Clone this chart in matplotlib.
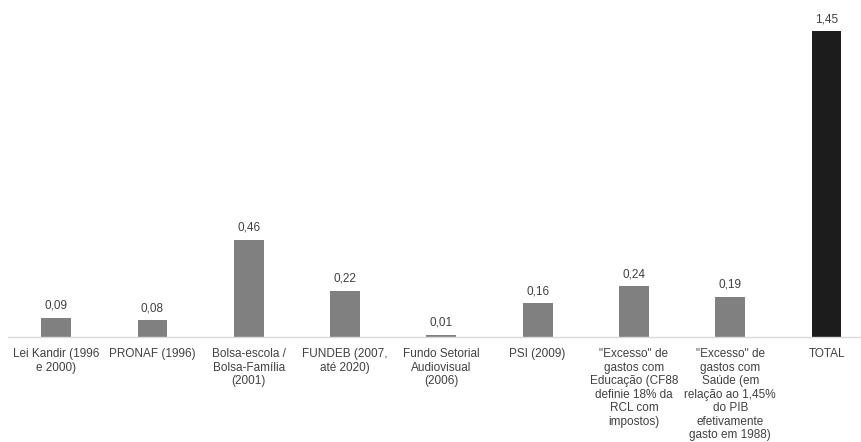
import matplotlib
matplotlib.use('Agg')
import matplotlib.pyplot as plt

plt.rcParams['font.family'] = ['Liberation Sans', 'DejaVu Sans']

categories = ['Lei Kandir (1996\ne 2000)',
              'PRONAF (1996)',
              'Bolsa-escola /\nBolsa-Família\n(2001)',
              'FUNDEB (2007,\naté 2020)',
              'Fundo Setorial\nAudiovisual\n(2006)',
              'PSI (2009)',
              '"Excesso" de\ngastos com\nEducação (CF88\ndefinie 18% da\nRCL com\nimpostos)',
              '"Excesso" de\ngastos com\nSaúde (em\nrelação ao 1,45%\ndo PIB\nefetivamente\ngasto em 1988)',
              'TOTAL']
values = [0.09, 0.08, 0.46, 0.22, 0.01, 0.16, 0.24, 0.19, 1.45]
labels = ['0,09', '0,08', '0,46', '0,22', '0,01', '0,16', '0,24', '0,19', '1,45']

colors = ['#808080'] * (len(values) - 1) + ['#1c1c1c']

fig = plt.figure(figsize=(8.61, 4.42), dpi=100)
# axes: left 8px, right 861px, baseline at 337px, top at 0
ax = fig.add_axes([8/861, (442-337)/442, 853/861, 337/442])

x = list(range(len(values)))
ax.bar(x, values, width=0.31, color=colors, zorder=2)

for xi, v, lab in zip(x, values, labels):
    ax.text(xi, v + 0.057, lab, ha='center', va='center', fontsize=8.5, color='#404040')

ax.set_xlim(-0.5, -0.5 + 853/96.3)
ax.set_ylim(0, 337/211)

for s in ['top', 'right', 'left']:
    ax.spines[s].set_visible(False)
ax.spines['bottom'].set_color('#d9d9d9')
ax.spines['bottom'].set_linewidth(1.0)
ax.set_yticks([])
ax.set_xticks(x)
ax.set_xticklabels(categories, fontsize=8.5, color='#404040', linespacing=1.17, va='top')
ax.tick_params(axis='x', length=0, pad=8)

fig.savefig('out.png', dpi=100)
